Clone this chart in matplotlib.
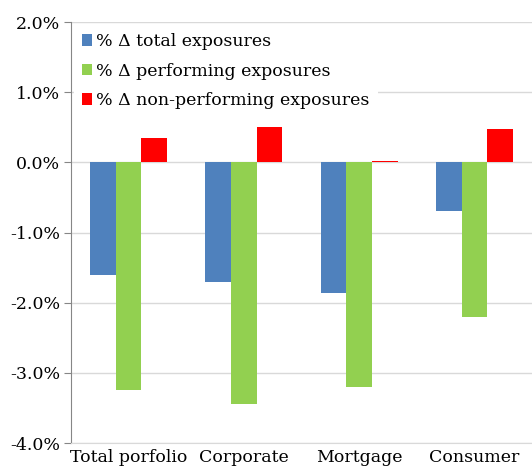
import numpy as np
import matplotlib
matplotlib.use("Agg")
import matplotlib.pyplot as plt
from matplotlib.ticker import FuncFormatter

# ── Data (% change) ───────────────────────────────────────────────────────────
categories = ["Total porfolio", "Corporate", "Mortgage", "Consumer"]
total_exp = [-1.60, -1.70, -1.86, -0.70]
performing = [-3.25, -3.45, -3.20, -2.20]
non_performing = [0.34, 0.50, 0.02, 0.47]

series = [
    ("% Δ total exposures", total_exp, "#4f81bd"),
    ("% Δ performing exposures", performing, "#92d050"),
    ("% Δ non-performing exposures", non_performing, "#ff0000"),
]

plt.rcParams["font.family"] = ["DejaVu Serif"]

fig = plt.figure(figsize=(5.32, 4.72), dpi=100)
ax = fig.add_axes([71 / 532, 29 / 472, 461 / 532, 421 / 472])

x = np.arange(len(categories))
w = 0.222
for i, (label, vals, col) in enumerate(series):
    ax.bar(x + (i - 1) * w, vals, width=w, color=col, label=label, zorder=3)

ax.set_xlim(-0.5, len(categories) - 0.5)
ax.set_ylim(-4.0, 2.0)
ax.set_yticks(np.arange(-4.0, 2.01, 1.0))
ax.yaxis.set_major_formatter(FuncFormatter(lambda v, _: f"{v:.1f}%"))
ax.grid(True, axis="y", color="#d9d9d9", linewidth=1.0, zorder=0)

ax.set_xticks(x)
ax.set_xticklabels(categories, fontsize=12.5)
ax.tick_params(axis="x", length=0, pad=4)
ax.tick_params(axis="y", labelsize=12.5, length=5, color="#868686",
               direction="out", pad=3)

for s in ["top", "right"]:
    ax.spines[s].set_visible(False)
ax.spines["left"].set_color("#868686")
ax.spines["bottom"].set_color("#d9d9d9")

leg = ax.legend(loc="upper left", bbox_to_anchor=(0.0, 1.0), frameon=True,
                fontsize=12.5, handlelength=0.55, handleheight=0.65,
                handletextpad=0.25, labelspacing=0.72, borderaxespad=0.15,
                borderpad=0.5, fancybox=False, framealpha=1.0)
leg.get_frame().set_linewidth(0)
leg.set_zorder(5)

fig.savefig("out.png", dpi=100)
